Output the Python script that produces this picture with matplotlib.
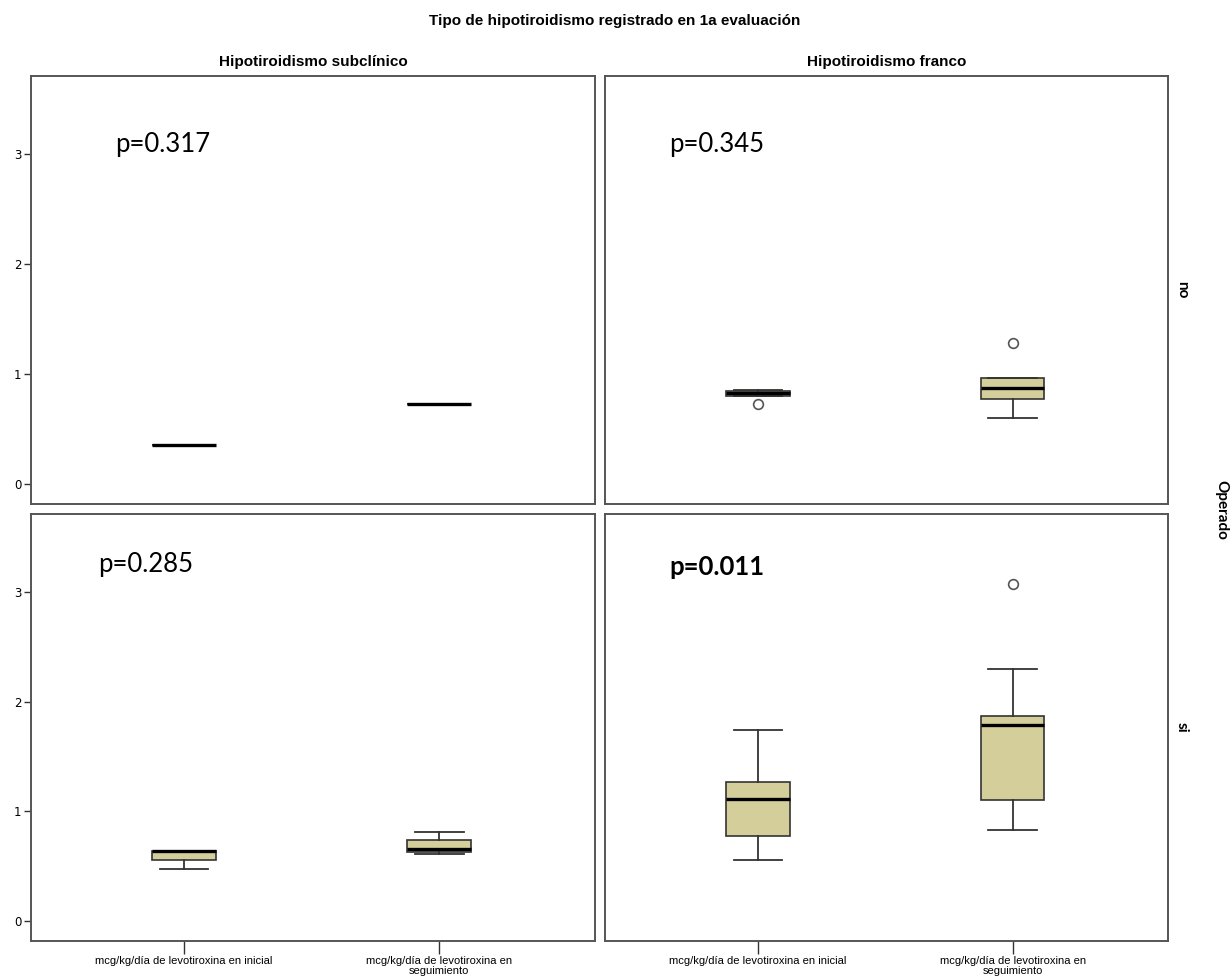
import matplotlib
matplotlib.use('Agg')
import matplotlib.pyplot as plt

# Datos por panel (fila: Operado no/si, columna: tipo de hipotiroidismo)
grupos = ['Hipotiroidismo subclínico', 'Hipotiroidismo franco']
operado = ['no', 'si']
etiquetas_x = ['mcg/kg/día de levotiroxina en inicial',
               'mcg/kg/día de levotiroxina en\nseguimiento']

# cada caja: [whislo, q1, med, q3, whishi]
sub_no_inicial = [0.355, 0.355, 0.355, 0.355, 0.355]
sub_no_seguim = [0.727, 0.727, 0.727, 0.727, 0.727]
fra_no_inicial = [0.80, 0.80, 0.83, 0.845, 0.86]
fra_no_seguim = [0.60, 0.773, 0.873, 0.964, 0.964]
sub_si_inicial = [0.48, 0.555, 0.636, 0.64, 0.64]
sub_si_seguim = [0.61, 0.627, 0.655, 0.736, 0.81]
fra_si_inicial = [0.555, 0.78, 1.11, 1.273, 1.74]
fra_si_seguim = [0.83, 1.105, 1.79, 1.87, 2.30]

# valores atípicos
fra_no_inicial_out = [0.727]
fra_no_seguim_out = [1.28]
fra_si_seguim_out = [3.075]

p_valores = [['p=0.317', 'p=0.345'], ['p=0.285', 'p=0.011']]
p_negrita = [[False, False], [False, True]]
p_pos = [[(0.149, 0.839), (0.114, 0.839)], [(0.119, 0.881), (0.114, 0.876)]]

paneles = [
    [[(sub_no_inicial, []), (sub_no_seguim, [])],
     [(fra_no_inicial, fra_no_inicial_out), (fra_no_seguim, fra_no_seguim_out)]],
    [[(sub_si_inicial, []), (sub_si_seguim, [])],
     [(fra_si_inicial, []), (fra_si_seguim, fra_si_seguim_out)]],
]

color_caja = '#D4CF9A'
color_borde = '#333333'

fig = plt.figure(figsize=(12.32, 9.8), dpi=100)

lefts = [31 / 1232, 605 / 1232]
widths = [564 / 1232, 563 / 1232]
bottoms = [1 - 504 / 980, 1 - 941 / 980]
heights = [428 / 980, 427 / 980]

for fila in range(2):
    for col in range(2):
        ax = fig.add_axes([lefts[col], bottoms[fila], widths[col], heights[fila]])
        stats = []
        for vals, outs in paneles[fila][col]:
            stats.append({'whislo': vals[0], 'q1': vals[1], 'med': vals[2],
                          'q3': vals[3], 'whishi': vals[4], 'fliers': outs})
        ax.bxp(stats, positions=[1, 2], widths=0.25, patch_artist=True,
               boxprops=dict(facecolor=color_caja, edgecolor=color_borde, linewidth=1.2),
               medianprops=dict(color='black', linewidth=2.4, solid_capstyle='butt'),
               whiskerprops=dict(color=color_borde, linewidth=1.3),
               capprops=dict(color=color_borde, linewidth=1.3),
               flierprops=dict(marker='o', markerfacecolor='white',
                               markeredgecolor='#555555', markersize=7,
                               markeredgewidth=1.2),
               capwidths=0.19)
        ax.set_xlim(0.4, 2.61)
        ax.set_ylim(-0.18, 3.71)
        for s in ax.spines.values():
            s.set_color('#555555')
            s.set_linewidth(1.4)

        if col == 0:
            ax.set_yticks([0, 1, 2, 3])
            ax.tick_params(axis='y', length=5, width=1, labelsize=8.5, pad=2,
                           color='#333333')
        else:
            ax.set_yticks([])
        if fila == 1:
            ax.set_xticks([1, 2])
            ax.set_xticklabels(etiquetas_x, fontsize=8, family='Liberation Sans',
                               linespacing=1.0)
            ax.tick_params(axis='x', length=9, width=1, pad=2, color='#333333')
        else:
            ax.set_xticks([])

        if fila == 0:
            ax.set_title(grupos[col], fontsize=11, fontweight='bold',
                         family='Liberation Sans', pad=7)
        if col == 1:
            ax.text(1.012, 0.5, operado[fila], transform=ax.transAxes,
                    rotation=-90, va='center', ha='left', fontsize=11,
                    fontweight='bold', family='Lato')

        x, y = p_pos[fila][col]
        ax.text(x, y, p_valores[fila][col], transform=ax.transAxes,
                va='center', ha='left', fontsize=18.5, family='Lato',
                fontweight='bold' if p_negrita[fila][col] else 'normal')

fig.text(615 / 1232, 1 - 21 / 980, 'Tipo de hipotiroidismo registrado en 1a evaluación',
         ha='center', va='center', fontsize=11, fontweight='bold',
         family='Liberation Sans')
fig.text(1221 / 1232, 1 - 510 / 980, 'Operado', rotation=-90, ha='center',
         va='center', fontsize=11, fontweight='bold', family='Lato')

fig.savefig('out.png', dpi=100)
